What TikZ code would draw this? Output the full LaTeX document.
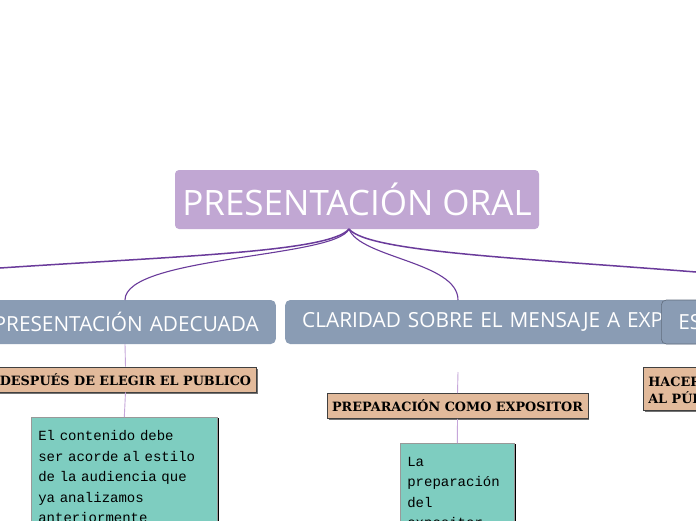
\documentclass[tikz,border=0pt]{standalone}
\usepackage{fontspec}
\setmainfont{Open Sans}
\newfontfamily\labelfont{DejaVu Serif}
\newfontfamily\notefont{Liberation Mono}
\usetikzlibrary{shadows}
\definecolor{rootpurple}{HTML}{C1A7D3}
\definecolor{topicblue}{HTML}{8A9CB4}
\definecolor{labeltan}{HTML}{E2BA9B}
\definecolor{noteteal}{HTML}{7ECDC0}
\definecolor{branchpurple}{HTML}{6A3B9B}
\definecolor{twigpurple}{HTML}{C6A6DA}
\tikzset{mainidea/.style={fill=rootpurple, rounded corners=4pt, text=white, font=\fontsize{35}{35}\selectfont, minimum width=364pt, minimum height=59pt, inner sep=0pt}}
\tikzset{topic/.style={fill=topicblue, rounded corners=5pt, text=white, font=\fontsize{20.8}{22}\selectfont, minimum height=44pt, inner xsep=17pt, inner ysep=0pt}}
\tikzset{subtopic/.style={fill=labeltan, draw=black!75, line width=0.6pt, font=\labelfont\bfseries\fontsize{12.8}{17}\selectfont, inner xsep=5pt, inner ysep=0pt, minimum height=25pt, drop shadow={shadow xshift=1.5pt, shadow yshift=-1.5pt, fill=black!55, opacity=1}}}
\tikzset{notebox/.style={fill=noteteal, draw=gray!80, line width=0.6pt, font=\notefont\fontsize{14}{20.5}\selectfont, align=left, inner xsep=7pt, inner ysep=13.5pt, anchor=north west, drop shadow={shadow xshift=1.5pt, shadow yshift=-1pt, fill=black, opacity=1}}}
\tikzset{branch/.style={draw=branchpurple, line width=1.5pt}, twig/.style={draw=twigpurple, line width=0.9pt}}

\begin{document}
\begin{tikzpicture}[x=1pt, y=-1pt]
\useasboundingbox (0,0) rectangle (696,520);
\clip (0,0) rectangle (696,520);
\fill[white] (0,0) rectangle (696,520);
% main idea
\node[mainidea] (oral) at (357,199.5) {PRESENTACIÓN ORAL};
\coordinate (hub) at (349,229);
% topics
\node[topic, anchor=east, text width=320pt, align=right] (adecuada) at (276,322) {PRESENTACIÓN ADECUADA};
\node[topic, anchor=west, text width=440pt, align=left] (claridad) at (285,322) {CLARIDAD SOBRE EL MENSAJE A EXPONER};
\node[topic, anchor=west, text width=60pt, align=left, draw=topicblue!70!black, line width=0.6pt] (estructura) at (661,322) {ES};
\coordinate (farleft) at (0,268);
\coordinate (farright) at (696,272);
% branches from the main idea
\draw[branch] (hub) .. controls (330,252) and (180,256) .. (farleft);
\draw[branch] (hub) .. controls (368,252) and (520,258) .. (farright);
\draw[branch, line width=1.1pt] (hub) .. controls (336,258) and (125,256) .. (125,300);
\draw[branch, line width=1.1pt] (hub) .. controls (360,258) and (458,262) .. (458,300);
% subtopics
\node[subtopic] (despues) at (125.5,379.5) {DESPUÉS DE ELEGIR EL PUBLICO};
\node[subtopic] (preparacionlbl) at (457.5,406) {PREPARACIÓN COMO EXPOSITOR};
\node[subtopic, anchor=north west, align=left, minimum height=43pt] (hacer) at (643,367) {HACER PARTÍCIPE\\AL PÚBLICO};
% notes
\node[notebox, text width=172pt] (contenido) at (31,417) {El contenido debe\\ser acorde al estilo\\de la audiencia que\\ya analizamos\\anteriormente\\[30pt]\mbox{}};
\node[notebox, text width=100pt] (preparacion) at (400,443) {La\\preparación\\del\\expositor\\[30pt]\mbox{}};
\coordinate (midtop) at (458,372);
% twigs
\draw[twig] (125,344) -- (despues.north);
\draw[twig] (despues.south) -- (contenido.north);
\draw[twig] (midtop) -- (preparacionlbl.north);
\draw[twig] (preparacionlbl.south) -- (preparacion.north);
\end{tikzpicture}
\end{document}
